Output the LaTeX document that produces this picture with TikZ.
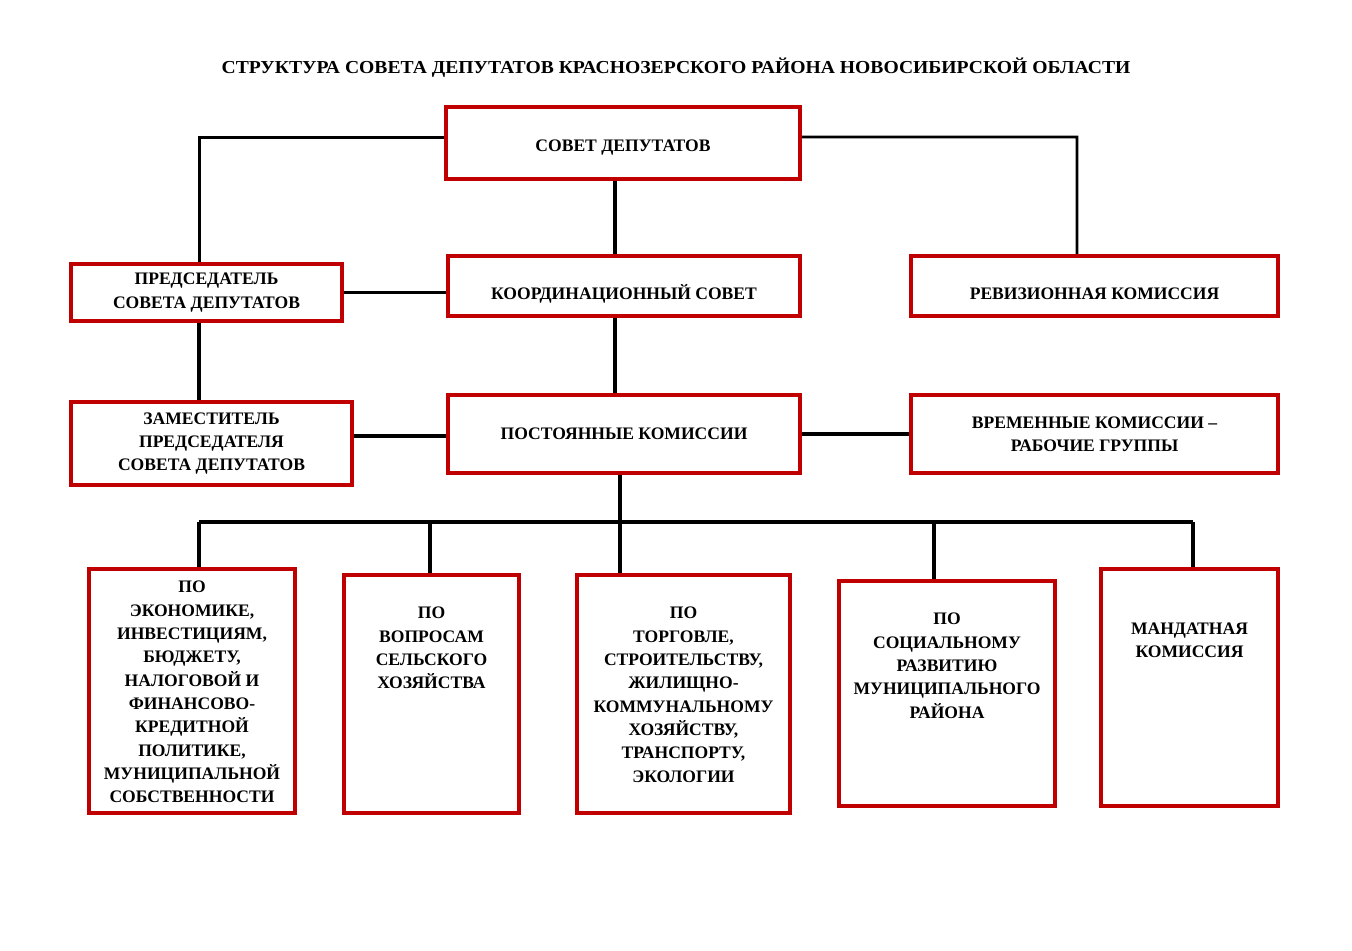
\documentclass[tikz,border=0pt]{standalone}
\usepackage{fontspec}
\setmainfont{Liberation Serif}
\usepackage{tikz}
\usetikzlibrary{backgrounds}
\definecolor{boxred}{HTML}{C00000}
\newcommand{\orgfont}{\fontsize{10}{13.3}\selectfont\bfseries}
% text hanging from the top of a tall box
\newcommand{\toptext}[4]{\parbox[c][#1][t]{#2}{\centering\vspace*{#3}#4}}
\tikzset{
  orgbox/.style={
    rectangle, draw=boxred, fill=white, line width=0.08cm,
    font=\orgfont, align=center, inner sep=0pt
  },
  link/.style={
    draw=black, line width=#1
  },
  link/.default=0.075cm,
  titlenode/.style={
    font=\orgfont, inner sep=0pt
  },
}

\begin{document}
\begin{tikzpicture}[x=0.02cm, y=-0.02cm]
  \useasboundingbox (0,0) rectangle (1352,950);

  \node[titlenode] (title) at (676,68)
    {\scalebox{1.117}[1.04]{СТРУКТУРА СОВЕТА ДЕПУТАТОВ КРАСНОЗЕРСКОГО РАЙОНА НОВОСИБИРСКОЙ ОБЛАСТИ}};

  % ── upper part ──
  \node[orgbox, minimum width=7.08cm, minimum height=1.44cm, text height=10.2pt, text depth=0pt] (sovet) at (623,143) {СОВЕТ ДЕПУТАТОВ};
  \node[orgbox, minimum width=7.04cm, minimum height=1.2cm, text height=15pt, text depth=0pt] (koord) at (624,286) {КООРДИНАЦИОННЫЙ СОВЕТ};
  \node[orgbox, minimum width=7.04cm, minimum height=1.56cm] (post) at (624,434) {ПОСТОЯННЫЕ КОМИССИИ};
  \node[orgbox, minimum width=5.42cm, minimum height=1.14cm] (pred) at (206.5,292.5)
    {ПРЕДСЕДАТЕЛЬ\\СОВЕТА ДЕПУТАТОВ};
  \node[orgbox, minimum width=5.62cm, minimum height=1.66cm] (zam) at (211.5,443.5)
    {ЗАМЕСТИТЕЛЬ\\ПРЕДСЕДАТЕЛЯ\\СОВЕТА ДЕПУТАТОВ};
  \node[orgbox, minimum width=7.34cm, minimum height=1.2cm, text height=15pt, text depth=0pt] (rev) at (1094.5,286) {РЕВИЗИОННАЯ КОМИССИЯ};
  \node[orgbox, minimum width=7.34cm, minimum height=1.56cm] (vrem) at (1094.5,434)
    {ВРЕМЕННЫЕ КОМИССИИ –\\РАБОЧИЕ ГРУППЫ};

  % ── standing commissions ──
  \node[orgbox] (b1) at (192,691)
    {\toptext{4.88cm}{4.12cm}{0.24cm}{ПО\\ЭКОНОМИКЕ,\\ИНВЕСТИЦИЯМ,\\БЮДЖЕТУ,\\НАЛОГОВОЙ И\\ФИНАНСОВО-\\КРЕДИТНОЙ\\ПОЛИТИКЕ,\\МУНИЦИПАЛЬНОЙ\\СОБСТВЕННОСТИ}};
  \node[orgbox] (b2) at (431.5,694)
    {\toptext{4.76cm}{3.5cm}{0.64cm}{ПО\\ВОПРОСАМ\\СЕЛЬСКОГО\\ХОЗЯЙСТВА}};
  \node[orgbox] (b3) at (683.5,694)
    {\toptext{4.76cm}{4.26cm}{0.64cm}{ПО\\ТОРГОВЛЕ,\\СТРОИТЕЛЬСТВУ,\\ЖИЛИЩНО-\\КОММУНАЛЬНОМУ\\ХОЗЯЙСТВУ,\\ТРАНСПОРТУ,\\ЭКОЛОГИИ}};
  \node[orgbox] (b4) at (947,693.5)
    {\toptext{4.5cm}{4.32cm}{0.64cm}{ПО\\СОЦИАЛЬНОМУ\\РАЗВИТИЮ\\МУНИЦИПАЛЬНОГО\\РАЙОНА}};
  \node[orgbox] (b5) at (1189.5,687.5)
    {\toptext{4.74cm}{3.54cm}{1.08cm}{МАНДАТНАЯ\\КОМИССИЯ}};

  % connector columns
  \coordinate (mid) at (615,0);
  \coordinate (rtop) at (1077,137);
  \coordinate (d1) at (199,522);
  \coordinate (d2) at (430,522);
  \coordinate (d3) at (620,522);
  \coordinate (d4) at (934,522);
  \coordinate (d5) at (1193,522);

  \begin{scope}[on background layer]
    \draw[link=0.06cm] ([yshift=0.12cm]sovet.west) -| (d1 |- pred.north);
    \draw[link=0.055cm] ([yshift=0.12cm]sovet.east) -- (rtop) -- (rtop |- rev.north);
    \draw[link] (sovet.south -| mid) -- (koord.north -| mid);
    \draw[link] (koord.south -| mid) -- (post.north -| mid);
    \draw[link] (pred.east) -- (pred.east -| koord.west);
    \draw[link] (d1 |- pred.south) -- (d1 |- zam.north);
    \draw[link] (zam.east |- 0,436) -- (post.west |- 0,436);
    \draw[link] (post.east) -- (vrem.west);
    \draw[link] (d3 |- post.south) -- (d3);
    \draw[link] (d1) -- (d5);
    \foreach \i in {1,...,5}
      \draw[link] (d\i) -- (d\i |- b\i.north);
  \end{scope}
\end{tikzpicture}
\end{document}
